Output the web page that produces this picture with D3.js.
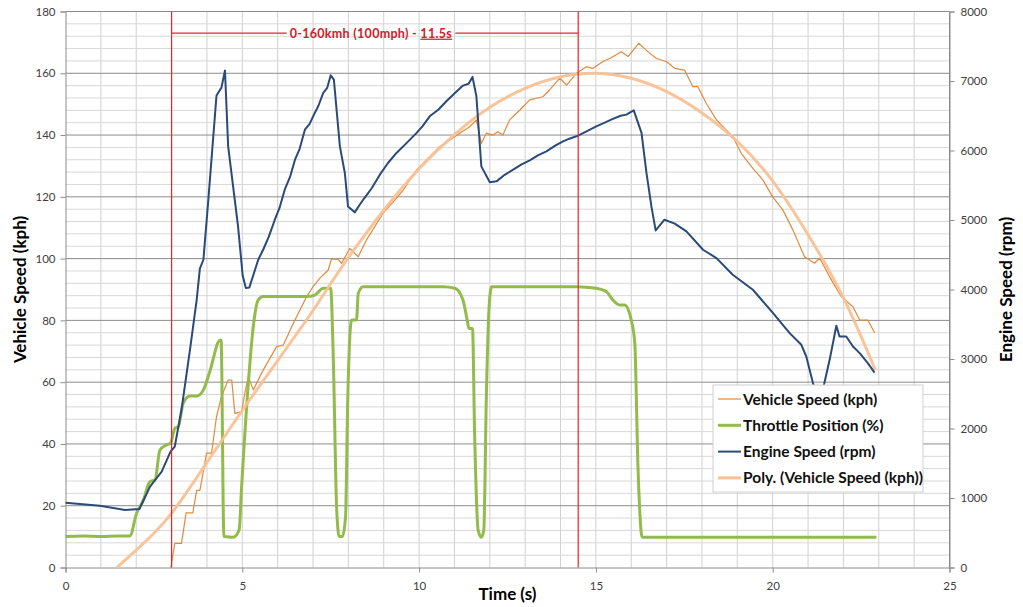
<!DOCTYPE html>
<html>
<head>
<meta charset="utf-8">
<script src="https://cdn.jsdelivr.net/npm/d3@7"></script>
<style>
  html, body { margin: 0; padding: 0; background: #fff; }
  svg { display: block; font-family: Lato, "Open Sans", sans-serif; }
</style>
</head>
<body>
<svg id="chart" width="1023" height="607"></svg>
<script>
// ---------- DATA ----------
const xTicks = [0, 5, 10, 15, 20, 25];
const yLeftTicks = [0, 20, 40, 60, 80, 100, 120, 140, 160, 180];
const yRightTicks = [0, 1000, 2000, 3000, 4000, 5000, 6000, 7000, 8000];

const speedT = [2.98,3.09,3.28,3.41,3.60,3.71,3.80,3.99,4.13,4.27,4.41,4.60,4.70,4.79,4.98,5.07,5.17,5.31,5.59,5.97,6.16,6.44,6.82,7.0,7.19,7.43,7.52,7.71,7.81,8.04,8.28,8.51,8.98,9.27,9.55,9.93,10.30,10.58,10.87,11.15,11.43,11.62,11.76,11.90,12.09,12.23,12.37,12.56,12.85,13.13,13.5,13.69,13.98,14.17,14.45,14.73,14.92,15.2,15.39,15.72,15.91,16.21,16.47,16.71,16.99,17.23,17.51,17.74,17.88,18.12,18.41,18.69,18.87,19.11,19.44,19.72,20.0,20.29,20.57,20.9,21.18,21.33,21.61,21.94,22.27,22.46,22.69,22.88];
const speedKph = [0,7.8,7.8,17.7,17.7,25,25,37,37,48.8,55.3,60.7,60.7,49.9,50.4,56.4,61.8,57.5,63.9,71.5,72,79,87.7,90.9,93.6,96.3,99.8,99.8,98.5,103.3,100.6,106,114.7,118.4,122.2,128.7,133,136.2,138.4,140.6,142.7,144.9,137.3,140.6,140,141.1,140,144.9,148.1,151.4,152.4,154.6,158.4,156.2,160,162.1,161.6,163.8,164.8,167,165.4,169.7,167,164.8,163.8,161.6,161,155.7,155.7,150.3,144.9,141.6,139.5,134.1,129.2,125.5,120,115.7,109.3,100.6,98.5,100.1,94.1,87.7,84.4,80.1,80.1,76];

const throttleT = [0,0.5,1.0,1.5,1.82,2.01,2.2,2.39,2.53,2.67,2.86,2.97,3.09,3.19,3.33,3.52,3.71,3.90,4.08,4.37,4.40,4.48,4.74,4.91,4.98,5.17,5.31,5.45,5.59,6.82,7.05,7.29,7.50,7.57,7.67,7.74,7.83,7.92,7.98,8.09,8.23,8.28,8.42,10.68,11.01,11.24,11.36,11.41,11.51,11.57,11.67,11.76,11.83,11.90,11.98,12.05,14.45,15.01,15.30,15.48,15.67,15.81,16.0,16.10,16.19,16.31,22.93];
const throttlePct = [10,10.2,10,10.2,10.2,17.5,21.8,27.8,28.3,38,39.7,40.2,45,45.6,53.2,55.5,55.5,57.5,63.4,73.6,73.6,10,9.8,12.1,26,59.6,78,86.6,87.7,87.7,88.2,90.4,90.4,69.3,18.6,10,10,16.4,53.2,80.1,80.1,88.8,90.9,90.9,90.4,86.6,80.1,77.4,77.4,43.4,12.1,9.8,12.1,54.2,84.4,90.9,90.9,90.4,89.3,86.6,85,85,80.1,72.6,32.6,9.8,9.8];

const engineT = [0,0.97,1.68,2.09,2.39,2.72,2.97,3.09,3.28,3.52,3.71,3.80,3.90,4.04,4.27,4.41,4.51,4.60,4.88,5.01,5.10,5.20,5.45,5.59,5.75,5.92,6.05,6.20,6.35,6.49,6.62,6.77,6.90,7.05,7.15,7.29,7.40,7.50,7.59,7.76,7.90,7.99,8.18,8.32,8.42,8.65,8.89,9.12,9.36,9.65,9.93,10.10,10.30,10.55,10.77,11.00,11.24,11.40,11.51,11.62,11.76,12.0,12.19,12.42,12.66,12.90,13.13,13.36,13.6,13.85,14.07,14.25,14.45,14.75,15.01,15.25,15.48,15.70,15.86,16.07,16.29,16.43,16.57,16.69,16.94,17.23,17.56,18.03,18.41,18.87,19.44,20.01,20.48,20.81,20.95,21.14,21.3,21.46,21.61,21.80,21.89,22.08,22.27,22.46,22.69,22.88];
const engineRpm = [933,890,828,842,1164,1380,1668,1740,2268,3132,3852,4300,4428,5292,6790,6905,7150,6060,4908,4205,4020,4030,4428,4572,4760,5004,5170,5436,5620,5868,6020,6300,6380,6541,6640,6829,6900,7082,7020,6060,5677,5196,5110,5220,5292,5450,5652,5820,5965,6110,6253,6350,6492,6590,6708,6820,6934,6960,7059,6780,5772,5542,5556,5650,5724,5800,5858,5930,5988,6070,6132,6170,6204,6280,6348,6400,6454,6500,6516,6578,6253,5677,5196,4850,5004,4947,4836,4572,4452,4212,3996,3660,3372,3204,3036,2652,2350,2652,2988,3478,3324,3324,3180,3084,2940,2805];

const trendT = [1.45,2.0,2.5,3.0,4.0,5.0,6.0,7.0,7.5,8.0,9.0,10.0,11.0,12.0,13.0,14.0,15.0,16.0,17.0,18.0,19.0,20.0,21.0,22.0,22.9];
const trendKph = [0,5.6,11,17,34,51,67,83,92,100.5,116,129.5,140.5,149.5,155.5,159.3,160.5,158.8,154.5,147.5,138.5,126,108,88.5,64];

const seriesNames = ["Vehicle Speed (kph)", "Throttle Position (%)", "Engine Speed (rpm)", "Poly. (Vehicle Speed (kph))"];
const seriesColors = ["#E38A3E", "#92BB4A", "#2A4A78", "#F9C194"];
const annotationText = "0-160kmh (100mph) - ";
const annotationTime = "11.5s";
const markerTimes = [3, 14.5];
const annotationLevel = 173;

// ---------- LAYOUT ----------
const L = 65.5, R = 949.5, T = 11.5, B = 567.5;
const svg = d3.select("#chart");
const x = d3.scaleLinear().domain([0, 25]).range([L, R]);
const yL = d3.scaleLinear().domain([0, 180]).range([B, T]);
const yR = d3.scaleLinear().domain([0, 8000]).range([B, T]);

const grid = svg.append("g");
grid.selectAll("line.v").data(d3.range(1, 25)).join("line")
  .attr("x1", d => x(d)).attr("x2", d => x(d)).attr("y1", T).attr("y2", B)
  .attr("stroke", "#d0d0d0").attr("stroke-width", 1);
grid.selectAll("line.hm").data(d3.range(4, 180, 4).filter(v => v % 20 !== 0)).join("line")
  .attr("x1", L).attr("x2", R).attr("y1", d => yL(d)).attr("y2", d => yL(d))
  .attr("stroke", "#d8d8d8").attr("stroke-width", 1);
grid.selectAll("line.hM").data(yLeftTicks.filter(v => v > 0)).join("line")
  .attr("x1", L).attr("x2", R).attr("y1", d => yL(d)).attr("y2", d => yL(d))
  .attr("stroke", "#8c8c8c").attr("stroke-width", 1);
grid.append("line").attr("x1", R).attr("x2", R).attr("y1", T).attr("y2", B)
  .attr("stroke", "#8c8c8c");

const tickFont = g => g.selectAll("text").attr("fill", "#404040").style("font-size", "11.5px").style("font-family", "Lato, 'Open Sans', sans-serif");
const axL = svg.append("g").attr("transform", `translate(${L},0)`)
  .call(d3.axisLeft(yL).tickValues(yLeftTicks).tickSize(5).tickPadding(5));
const axB = svg.append("g").attr("transform", `translate(0,${B})`)
  .call(d3.axisBottom(x).tickValues(xTicks).tickSize(5).tickPadding(9));
const axR = svg.append("g").attr("transform", `translate(${R},0)`)
  .call(d3.axisRight(yR).tickValues(yRightTicks).tickFormat(d3.format("d")).tickSize(5).tickPadding(6));
[axL, axB, axR].forEach(a => {
  a.select(".domain").attr("stroke", "#8c8c8c");
  a.selectAll(".tick line").attr("stroke", "#8c8c8c");
  tickFont(a);
});

const zip = (a, b) => a.map((v, i) => [v, b[i]]);
const lineL = d3.line().x(d => x(d[0])).y(d => yL(d[1]));
const lineLsmooth = d3.line().x(d => x(d[0])).y(d => yL(d[1])).curve(d3.curveMonotoneX);
const lineTrend = d3.line().x(d => x(d[0])).y(d => yL(d[1])).curve(d3.curveBasis);
const lineR = d3.line().x(d => x(d[0])).y(d => yR(d[1]));

svg.append("path").attr("d", lineL(zip(speedT, speedKph)))
  .attr("fill", "none").attr("stroke", seriesColors[0]).attr("stroke-width", 1.2).attr("stroke-linejoin", "round");
svg.append("path").attr("d", lineLsmooth(zip(throttleT, throttlePct)))
  .attr("fill", "none").attr("stroke", seriesColors[1]).attr("stroke-width", 3).attr("stroke-linejoin", "round");
svg.append("path").attr("d", lineTrend(zip(trendT, trendKph)))
  .attr("fill", "none").attr("stroke", seriesColors[3]).attr("stroke-width", 3).attr("opacity", 0.95);
svg.append("path").attr("d", lineR(zip(engineT, engineRpm)))
  .attr("fill", "none").attr("stroke", seriesColors[2]).attr("stroke-width", 2).attr("stroke-linejoin", "round");

// red markers
const red = "#E3262B";
svg.selectAll("line.mk").data(markerTimes).join("line")
  .attr("x1", d => x(d)).attr("x2", d => x(d)).attr("y1", T).attr("y2", B)
  .attr("stroke", red).attr("stroke-width", 1.2);
const ay = yL(annotationLevel);
const midX = (x(markerTimes[0]) + x(markerTimes[1])) / 2 - 4;
const ann = svg.append("text").attr("x", midX).attr("y", ay + 4.5)
  .attr("text-anchor", "middle").attr("fill", "#D0202A")
  .style("font-size", "12.5px").style("font-weight", "bold").style("letter-spacing", "0.3px");
ann.append("tspan").text(annotationText);
ann.append("tspan").text(annotationTime).style("text-decoration", "underline");
const bb = ann.node().getBBox();
svg.append("line").attr("x1", x(markerTimes[0])).attr("x2", bb.x - 3).attr("y1", ay).attr("y2", ay)
  .attr("stroke", red).attr("stroke-width", 1.2);
svg.append("line").attr("x1", bb.x + bb.width + 3).attr("x2", x(markerTimes[1])).attr("y1", ay).attr("y2", ay)
  .attr("stroke", red).attr("stroke-width", 1.2);

// axis titles
svg.append("text").attr("transform", `translate(26,${(T + B) / 2}) rotate(-90)`)
  .attr("text-anchor", "middle").style("font-size", "17px").style("font-weight", "bold").attr("fill", "#000")
  .text("Vehicle Speed (kph)");
svg.append("text").attr("x", (L + R) / 2).attr("y", 600)
  .attr("text-anchor", "middle").style("font-size", "17px").style("font-weight", "bold").attr("fill", "#000")
  .text("Time (s)");
svg.append("text").attr("transform", `translate(1012,${(T + B) / 2}) rotate(-90)`)
  .attr("text-anchor", "middle").style("font-size", "17px").style("font-weight", "bold").attr("fill", "#000")
  .text("Engine Speed (rpm)");

// legend
const lg = svg.append("g").attr("transform", "translate(713,385)");
lg.append("rect").attr("width", 210).attr("height", 107).attr("fill", "#fff").attr("stroke", "#d0d0d0");
const widths = [1.2, 3, 2, 3];
seriesNames.forEach((n, i) => {
  const yy = 14 + i * 26.3;
  lg.append("line").attr("x1", 5).attr("x2", 28).attr("y1", yy).attr("y2", yy)
    .attr("stroke", seriesColors[i]).attr("stroke-width", widths[i]);
  lg.append("text").attr("x", 30).attr("y", yy + 5.5).style("font-size", "15.5px").style("font-weight", "bold")
    .attr("fill", "#111").text(n);
});
</script>
</body>
</html>
